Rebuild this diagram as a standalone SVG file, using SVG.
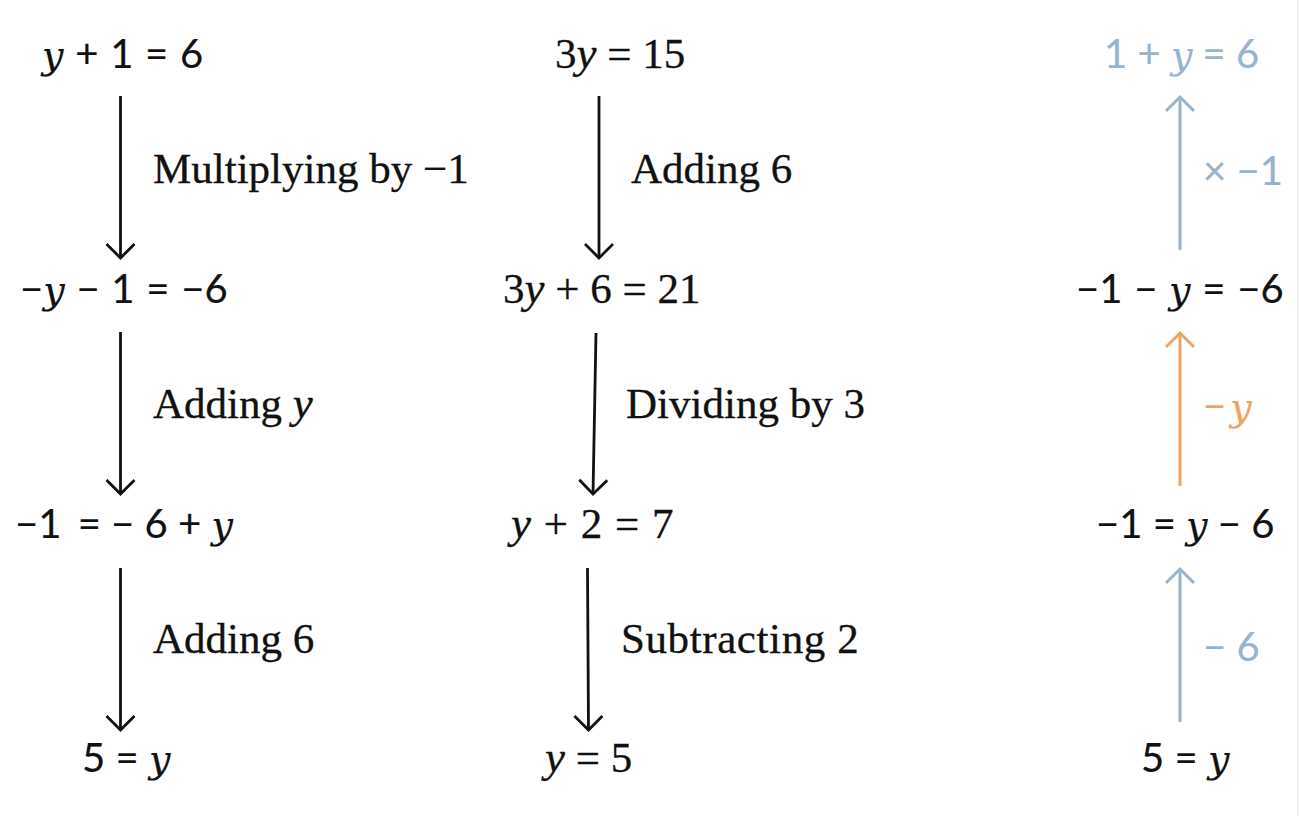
<svg xmlns="http://www.w3.org/2000/svg" width="1300" height="816" viewBox="0 0 1300 816">
  <style>
    .sans { font-family: Lato, "Open Sans", "Liberation Sans", sans-serif; font-size: 40px; fill: #111; stroke: #111; stroke-width: 0.2px; }
    .serif { font-family: "Liberation Serif", "DejaVu Serif", serif; font-size: 43px; fill: #111; stroke: #111; stroke-width: 0.3px; }
    .v { font-family: "DejaVu Serif", "Liberation Serif", serif; font-style: italic; font-size: 38px; }
    .vs { font-family: "Liberation Serif", "DejaVu Serif", serif; font-style: italic; font-size: 45px; }
    .blue { fill: #97b4cc; stroke: #97b4cc; }
    .orange { fill: #f0a263; stroke: #f0a263; }
    .ln { fill: none; stroke-width: 2.8; }
    .k { stroke: #111; }
    .b { stroke: #97b4cc; stroke-width: 3; }
    .o { stroke: #f0a263; stroke-width: 3; }
  </style>
  <defs>
    <marker id="mk" markerUnits="userSpaceOnUse" viewBox="-16 -16 20 32" refX="0" refY="0" markerWidth="20" markerHeight="32" orient="auto">
      <path d="M-14,-14 L0,0 L-14,14" fill="none" stroke="#111" stroke-width="2.8"/>
    </marker>
    <marker id="mb" markerUnits="userSpaceOnUse" viewBox="-16 -16 20 32" refX="0" refY="0" markerWidth="20" markerHeight="32" orient="auto">
      <path d="M-14,-14 L0,0 L-14,14" fill="none" stroke="#97b4cc" stroke-width="3"/>
    </marker>
    <marker id="mo" markerUnits="userSpaceOnUse" viewBox="-16 -16 20 32" refX="0" refY="0" markerWidth="20" markerHeight="32" orient="auto">
      <path d="M-14,-14 L0,0 L-14,14" fill="none" stroke="#f0a263" stroke-width="3"/>
    </marker>
  </defs>
  <rect width="1300" height="816" fill="#ffffff"/>
  <rect x="1297" y="0" width="1.5" height="816" fill="#ececec"/>

  <g id="connectors">
    <line class="ln k" x1="120.5" y1="96" x2="120.5" y2="258" marker-end="url(#mk)"/>
    <line class="ln k" x1="120.5" y1="332" x2="120.5" y2="494" marker-end="url(#mk)"/>
    <line class="ln k" x1="120.5" y1="568" x2="120.5" y2="730" marker-end="url(#mk)"/>
    <line class="ln k" x1="599" y1="96" x2="599" y2="258" marker-end="url(#mk)"/>
    <line class="ln k" x1="596" y1="333" x2="593" y2="494" marker-end="url(#mk)"/>
    <line class="ln k" x1="587.5" y1="568" x2="588.5" y2="730" marker-end="url(#mk)"/>
    <line class="ln b" x1="1180" y1="250" x2="1180" y2="97" marker-end="url(#mb)"/>
    <line class="ln o" x1="1180" y1="486" x2="1180" y2="333" marker-end="url(#mo)"/>
    <line class="ln b" x1="1180" y1="722" x2="1180" y2="569" marker-end="url(#mb)"/>
  </g>

  <g id="labels">
    <text class="serif" x="153" y="183">Multiplying by −1</text>
    <text class="serif" x="153" y="418">Adding <tspan class="vs">y</tspan></text>
    <text class="serif" x="153" y="653">Adding 6</text>
    <text class="serif" x="631" y="183">Adding 6</text>
    <text class="serif" x="626" y="418">Dividing by 3</text>
    <text class="serif" x="621" y="653" letter-spacing="0.6">Subtracting 2</text>
    <text class="sans blue" x="1203" y="185">× −1</text>
    <text class="sans orange" x="1203" y="420">−<tspan class="v" dx="4">y</tspan></text>
    <text class="sans blue" x="1203" y="661">− 6</text>
  </g>

  <g id="col1">
    <g id="n-c1-1"><text class="sans" x="42" y="68" word-spacing="1.5"><tspan class="v">y</tspan> + 1 = 6</text></g>
    <g id="n-c1-2"><text class="sans" x="20" y="303" word-spacing="1.5">−<tspan class="v">y</tspan> − 1 = −6</text></g>
    <g id="n-c1-3"><text class="sans" x="15" y="538">−1 <tspan dx="6">= − 6 +</tspan> <tspan class="v">y</tspan></text></g>
    <g id="n-c1-4"><text class="sans" x="82" y="772">5 = <tspan class="v">y</tspan></text></g>
  </g>

  <g id="col2">
    <g id="n-c2-1"><text class="serif" x="555" y="68">3<tspan class="vs">y</tspan> = 15</text></g>
    <g id="n-c2-2"><text class="serif" x="503" y="303">3<tspan class="vs">y</tspan> + 6 = 21</text></g>
    <g id="n-c2-3"><text class="serif" x="511" y="538" word-spacing="2"><tspan class="vs">y</tspan> + 2 = 7</text></g>
    <g id="n-c2-4"><text class="serif" x="545" y="772"><tspan class="vs">y</tspan> = 5</text></g>
  </g>

  <g id="col3">
    <g id="n-c3-1"><text class="sans blue" x="1104" y="68">1 + <tspan class="v">y</tspan> = 6</text></g>
    <g id="n-c3-2"><text class="sans" x="1076" y="303" word-spacing="1.5">−1 − <tspan class="v">y</tspan> = −6</text></g>
    <g id="n-c3-3"><text class="sans" x="1096" y="538">−1 = <tspan class="v">y</tspan> − 6</text></g>
    <g id="n-c3-4"><text class="sans" x="1141" y="772">5 = <tspan class="v">y</tspan></text></g>
  </g>
</svg>
